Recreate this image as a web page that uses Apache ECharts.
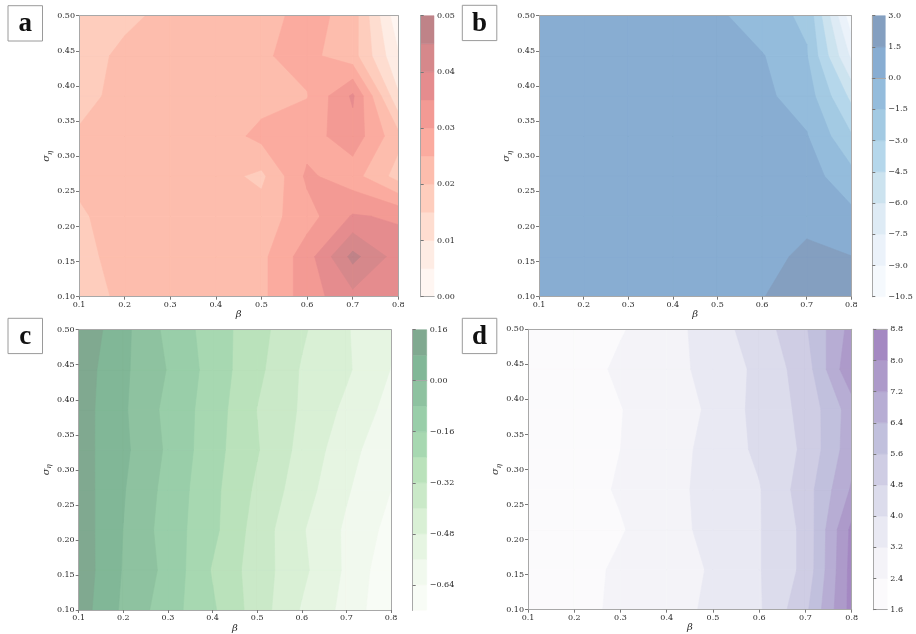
<!DOCTYPE html>
<html>
<head>
<meta charset="utf-8">
<script src="https://cdn.jsdelivr.net/npm/echarts@6/dist/echarts.min.js"></script>
<style>
  html, body { margin: 0; padding: 0; background: #ffffff; }
  #main { width: 916px; height: 634px; }
</style>
</head>
<body>
<div id="main"></div>
<script>
// Sample grid: beta along x, sigma_eta along y
const betaGrid = [0.1, 0.2, 0.3, 0.4, 0.5, 0.6, 0.7, 0.8];
const sigmaGrid = [0.1, 0.1571, 0.2143, 0.2714, 0.3286, 0.3857, 0.4429, 0.5];

// Each field: one row per sigma value (0.10 first, 0.50 last), one column per beta value
const fieldA = [
  [0.0185, 0.0207, 0.0225, 0.0230, 0.0237, 0.0327, 0.0385, 0.0370],
  [0.0188, 0.0215, 0.0225, 0.0230, 0.0237, 0.0327, 0.0465, 0.0377],
  [0.0194, 0.0220, 0.0225, 0.0225, 0.0225, 0.0279, 0.0355, 0.0343],
  [0.0209, 0.0222, 0.0225, 0.0219, 0.0188, 0.0310, 0.0270, 0.0180],
  [0.0204, 0.0222, 0.0225, 0.0221, 0.0265, 0.0277, 0.0330, 0.0215],
  [0.0189, 0.0211, 0.0225, 0.0225, 0.0230, 0.0248, 0.0358, 0.0106],
  [0.0190, 0.0205, 0.0225, 0.0230, 0.0245, 0.0264, 0.0220, 0.0055],
  [0.0185, 0.0195, 0.0206, 0.0220, 0.0224, 0.0274, 0.0226, 0.0012]
];
const fieldB = [
  [1.0, 1.0, 1.0, 1.0, 1.1, 1.45, 2.2, 2.3],
  [1.0, 1.0, 1.0, 1.0, 1.0, 0.9, 1.89, 1.52],
  [1.0, 1.0, 1.0, 1.0, 0.9, 0.8, 1.0, 0.4],
  [0.9, 0.9, 0.9, 0.9, 0.8, 0.8, 0.67, -1.0],
  [0.9, 0.9, 0.9, 0.8, 0.7, 0.6, 0.1, -2.85],
  [0.9, 0.9, 0.8, 0.8, 0.6, 0.33, -0.7, -4.9],
  [0.8, 0.8, 0.8, 0.7, 0.5, 0.1, -1.4, -7.8],
  [0.8, 0.8, 0.7, 0.6, 0.3, -0.95, -1.75, -10.0]
];
const fieldC = [
  [0.121, -0.015, -0.125, -0.228, -0.358, -0.487, -0.585, -0.710],
  [0.130, -0.006, -0.103, -0.247, -0.360, -0.461, -0.573, -0.700],
  [0.126, -0.0013, -0.117, -0.219, -0.355, -0.472, -0.573, -0.666],
  [0.122, 0.0058, -0.107, -0.218, -0.335, -0.443, -0.551, -0.640],
  [0.115, 0.0176, -0.093, -0.210, -0.314, -0.425, -0.528, -0.623],
  [0.119, 0.0113, -0.103, -0.198, -0.322, -0.410, -0.498, -0.589],
  [0.125, 0.015, -0.084, -0.192, -0.301, -0.407, -0.468, -0.562],
  [0.1475, 0.0225, -0.1015, -0.197, -0.291, -0.388, -0.474, -0.545]
];
const fieldD = [
  [1.85, 2.0, 2.65, 2.9, 3.35, 3.9, 5.4, 8.3],
  [1.85, 2.0, 2.58, 2.75, 3.3, 3.95, 5.0, 8.3],
  [1.85, 2.0, 2.33, 2.95, 3.4, 3.95, 5.0, 8.2],
  [1.85, 2.0, 2.5, 2.9, 3.5, 3.95, 5.2, 7.3],
  [1.85, 2.0, 2.4, 2.8, 3.5, 4.15, 4.94, 6.89],
  [1.85, 2.0, 2.37, 2.9, 3.3, 4.3, 5.0, 6.8],
  [1.85, 2.0, 2.55, 3.07, 3.32, 4.24, 5.17, 7.9],
  [1.9, 2.1, 2.34, 2.82, 3.65, 4.39, 5.5, 7.5]
];

// Contour levels and colour bar ticks
const levelsA = [0, 0.005, 0.01, 0.015, 0.02, 0.025, 0.03, 0.035, 0.04, 0.045, 0.05];
const ticksA = [0, 0.01, 0.02, 0.03, 0.04, 0.05];
const levelsB = [-10.5, -9, -7.5, -6, -4.5, -3, -1.5, 0, 1.5, 3];
const ticksB = [-10.5, -9, -7.5, -6, -4.5, -3, -1.5, 0, 1.5, 3];
const levelsC = [-0.72, -0.64, -0.56, -0.48, -0.40, -0.32, -0.24, -0.16, -0.08, 0, 0.08, 0.16];
const ticksC = [-0.64, -0.48, -0.32, -0.16, 0, 0.16];
const levelsD = [1.6, 2.4, 3.2, 4.0, 4.8, 5.6, 6.4, 7.2, 8.0, 8.8];
const ticksD = [1.6, 2.4, 3.2, 4.0, 4.8, 5.6, 6.4, 7.2, 8.0, 8.8];

// Sequential colour ramps (drawn half transparent over white)
const REDS = ['#fff5f0', '#fee0d2', '#fcbba1', '#fc9272', '#fb6a4a', '#ef3b2c', '#cb181d', '#a50f15', '#67000d'];
const BLUES = ['#f7fbff', '#deebf7', '#c6dbef', '#9ecae1', '#6baed6', '#4292c6', '#2171b5', '#08519c', '#08306b'];
const GREENS = ['#f7fcf5', '#e5f5e0', '#c7e9c0', '#a1d99b', '#74c476', '#41ab5d', '#238b45', '#006d2c', '#00441b'];
const PURPLES = ['#fcfbfd', '#efedf5', '#dadaeb', '#bcbddc', '#9e9ac8', '#807dba', '#6a51a3', '#54278f', '#3f007d'];

function hexToRgb(h) {
  return [parseInt(h.slice(1, 3), 16), parseInt(h.slice(3, 5), 16), parseInt(h.slice(5, 7), 16)];
}
function rampColor(ramp, t) {
  const pos = Math.min(Math.max(t, 0), 1) * (ramp.length - 1);
  const k = Math.min(Math.floor(pos), ramp.length - 2);
  const f = pos - k;
  const a = hexToRgb(ramp[k]), b = hexToRgb(ramp[k + 1]);
  const c = a.map((v, i) => v + (b[i] - v) * f);
  const alpha = 0.5;
  const m = c.map(v => Math.round(v * alpha + 255 * (1 - alpha)));
  return 'rgb(' + m.join(',') + ')';
}
function bandColors(ramp, levels) {
  const n = levels.length - 1;
  const out = [];
  for (let i = 0; i < n; i++) out.push(rampColor(ramp, (i + 0.5) / n));
  return out;
}

const FONT = '"DejaVu Serif", serif';
const SPINE = '#a8a8a8';
const TEXT = '#2a2a2a';

function fmtSigned(v, d) {
  const s = Math.abs(v).toFixed(d);
  return (v < -1e-9 ? '\u2212' : '') + s;
}

// Filled region (value >= lo) inside one grid cell, as a list of polygons in data space.
// Saddle cells are split or joined according to the cell-centre value.
function cellRegions(ring, lo) {
  const inside = ring.map(c => c.v >= lo);
  const cross = [];
  for (let k = 0; k < 4; k++) {
    const P = ring[k], Q = ring[(k + 1) % 4];
    if (inside[k] !== inside[(k + 1) % 4]) {
      const t = (lo - P.v) / (Q.v - P.v);
      cross[k] = [P.x + t * (Q.x - P.x), P.y + t * (Q.y - P.y)];
    }
  }
  const saddle = inside[0] === inside[2] && inside[1] === inside[3] && inside[0] !== inside[1];
  const centre = (ring[0].v + ring[1].v + ring[2].v + ring[3].v) / 4;
  if (saddle && centre < lo) {
    const polys = [];
    for (let k = 0; k < 4; k++) {
      if (!inside[k]) continue;
      const prev = (k + 3) % 4;
      polys.push([cross[prev], [ring[k].x, ring[k].y], cross[k]]);
    }
    return polys;
  }
  const pts = [];
  for (let k = 0; k < 4; k++) {
    if (inside[k]) pts.push([ring[k].x, ring[k].y]);
    if (cross[k]) pts.push(cross[k]);
  }
  return pts.length >= 3 ? [pts] : [];
}

function contourRenderer(field, levels, colors) {
  return function (params, api) {
    const b = api.value(2);
    const lo = levels[b];
    const color = colors[b];
    const children = [];
    for (let j = 0; j < sigmaGrid.length - 1; j++) {
      for (let i = 0; i < betaGrid.length - 1; i++) {
        const ring = [[i, j], [i + 1, j], [i + 1, j + 1], [i, j + 1]].map(function (q) {
          return { x: betaGrid[q[0]], y: sigmaGrid[q[1]], v: field[q[1]][q[0]] };
        });
        cellRegions(ring, lo).forEach(function (poly) {
          children.push({
            type: 'polygon',
            shape: { points: poly.map(p => api.coord(p)) },
            style: { fill: color, stroke: color, lineWidth: 0.6 }
          });
        });
      }
    }
    return { type: 'group', children: children };
  };
}

function colorbarRenderer(levels, colors) {
  return function (params, api) {
    const b = api.value(2);
    const p0 = api.coord([0, levels[b]]);
    const p1 = api.coord([1, levels[b + 1]]);
    return {
      type: 'rect',
      shape: { x: p0[0], y: p1[1], width: p1[0] - p0[0], height: p0[1] - p1[1] },
      style: { fill: colors[b], stroke: colors[b], lineWidth: 0.5 }
    };
  };
}

const panels = [
  { tag: 'a', field: fieldA, levels: levelsA, ticks: ticksA, ramp: REDS, dec: 2,
    plot: { left: 79, top: 15.7, width: 319.3, height: 281 },
    bar: { left: 420.7, top: 15.7, width: 13.3, height: 281 },
    box: [8, 5.7] },
  { tag: 'b', field: fieldB, levels: levelsB, ticks: ticksB, ramp: BLUES, dec: 1,
    plot: { left: 539, top: 15.7, width: 312.3, height: 281 },
    bar: { left: 872.3, top: 15.7, width: 13, height: 281 },
    box: [462.3, 5.3] },
  { tag: 'c', field: fieldC, levels: levelsC, ticks: ticksC, ramp: GREENS, dec: 2,
    plot: { left: 78.7, top: 329.7, width: 312.3, height: 280.6 },
    bar: { left: 412.7, top: 329.7, width: 14, height: 280.6 },
    box: [8, 318.3] },
  { tag: 'd', field: fieldD, levels: levelsD, ticks: ticksD, ramp: PURPLES, dec: 1,
    plot: { left: 528, top: 329.3, width: 323.7, height: 280.4 },
    bar: { left: 873.3, top: 329.3, width: 14, height: 280.4 },
    box: [462.3, 318.3] }
];

const grid = [], xAxis = [], yAxis = [], series = [], graphic = [];

const lineOnly = { lineStyle: { color: SPINE, width: 1 } };

panels.forEach(function (p, n) {
  const colors = bandColors(p.ramp, p.levels);
  const lo = p.levels[0], hi = p.levels[p.levels.length - 1];
  grid.push(Object.assign({ containLabel: false }, p.plot));
  grid.push(Object.assign({ containLabel: false }, p.bar));
  const gMain = 2 * n, gBar = 2 * n + 1;

  // main plot axes: bottom/left carry ticks and labels, top/right close the frame
  xAxis.push({
    gridIndex: gMain, type: 'value', min: 0.1, max: 0.8, interval: 0.1, z: 10,
    axisLine: lineOnly,
    axisTick: { show: true, length: 3, lineStyle: { color: '#777' } },
    axisLabel: { formatter: v => v.toFixed(1), fontFamily: FONT, fontSize: 8, color: TEXT, margin: 4 },
    splitLine: { show: false },
    name: 'β', nameLocation: 'middle', nameGap: 13,
    nameTextStyle: { fontFamily: FONT, fontStyle: 'italic', fontSize: 10, color: TEXT }
  });
  xAxis.push({
    gridIndex: gMain, type: 'value', min: 0.1, max: 0.8, position: 'top', z: 10,
    axisLine: lineOnly, axisTick: { show: false }, axisLabel: { show: false }, splitLine: { show: false }
  });
  xAxis.push({
    gridIndex: gBar, type: 'value', min: 0, max: 1, z: 10,
    axisLine: lineOnly, axisTick: { show: false }, axisLabel: { show: false }, splitLine: { show: false }
  });
  xAxis.push({
    gridIndex: gBar, type: 'value', min: 0, max: 1, position: 'top', z: 10,
    axisLine: lineOnly, axisTick: { show: false }, axisLabel: { show: false }, splitLine: { show: false }
  });

  yAxis.push({
    gridIndex: gMain, type: 'value', min: 0.1, max: 0.5, interval: 0.05, z: 10,
    axisLine: lineOnly,
    axisTick: { show: true, length: 3, lineStyle: { color: '#777' } },
    axisLabel: { formatter: v => v.toFixed(2), fontFamily: FONT, fontSize: 8, color: TEXT, margin: 4 },
    splitLine: { show: false },
    name: '{s|σ}{u|η}', nameLocation: 'middle', nameGap: 23, nameRotate: 90,
    nameTextStyle: {
      color: TEXT,
      rich: {
        s: { fontFamily: FONT, fontStyle: 'italic', fontSize: 10, color: TEXT, lineHeight: 14 },
        u: { fontFamily: FONT, fontStyle: 'italic', fontSize: 7, color: TEXT, verticalAlign: 'bottom', lineHeight: 14, padding: [5, 0, 0, 0] }
      }
    }
  });
  yAxis.push({
    gridIndex: gMain, type: 'value', min: 0.1, max: 0.5, position: 'right', z: 10,
    axisLine: lineOnly, axisTick: { show: false }, axisLabel: { show: false }, splitLine: { show: false }
  });
  yAxis.push({
    gridIndex: gBar, type: 'value', min: lo, max: hi, position: 'left', z: 10,
    axisLine: lineOnly, axisTick: { show: false }, axisLabel: { show: false }, splitLine: { show: false }
  });
  yAxis.push({
    gridIndex: gBar, type: 'value', min: lo, max: hi, position: 'right', z: 10,
    axisLine: lineOnly,
    axisTick: { show: true, length: 3, customValues: p.ticks, lineStyle: { color: '#777' } },
    axisLabel: { customValues: p.ticks, formatter: v => fmtSigned(v, p.dec), fontFamily: FONT, fontSize: 8, color: TEXT, margin: 3 },
    splitLine: { show: false }
  });

  const bands = p.levels.slice(0, -1).map((lv, i) => [0.1, 0.1, i]);
  series.push({
    type: 'custom', xAxisIndex: 4 * n, yAxisIndex: 4 * n, clip: true, silent: true,
    encode: { x: 0, y: 1 },
    renderItem: contourRenderer(p.field, p.levels, colors),
    data: bands
  });
  series.push({
    type: 'custom', xAxisIndex: 4 * n + 2, yAxisIndex: 4 * n + 3, silent: true,
    encode: { x: 0, y: 1 },
    renderItem: colorbarRenderer(p.levels, colors),
    data: p.levels.slice(0, -1).map((lv, i) => [0, lv, i])
  });

  // panel tag in a framed box
  graphic.push({
    type: 'rect', z: 100,
    shape: { x: p.box[0], y: p.box[1], width: 34.5, height: 35.3 },
    style: { fill: '#ffffff', stroke: '#9a9a9a', lineWidth: 1 }
  });
  graphic.push({
    type: 'text', z: 101,
    x: p.box[0] + 17.3, y: p.box[1] + 18.5,
    style: {
      text: p.tag, fontFamily: '"Liberation Serif", serif', fontWeight: 'bold', fontSize: 27,
      fill: '#111111', align: 'center', verticalAlign: 'middle',
      textAlign: 'center', textVerticalAlign: 'middle'
    }
  });
});

const chart = echarts.init(document.getElementById('main'), null, { renderer: 'canvas' });
chart.setOption({
  animation: false,
  backgroundColor: '#ffffff',
  grid: grid,
  xAxis: xAxis,
  yAxis: yAxis,
  series: series,
  graphic: graphic
});
</script>
</body>
</html>
